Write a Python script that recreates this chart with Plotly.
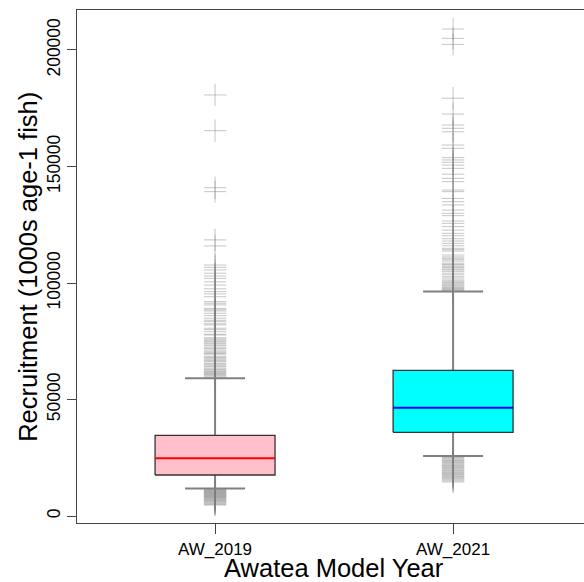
import plotly.graph_objects as go

categories = ["AW_2019", "AW_2021"]
lower_whisker = [11800, 25700]
q1 = [17600, 35900]
median = [24800, 46500]
q3 = [34600, 62500]
upper_whisker = [59100, 96300]

outliers_2019 = [180700, 165400, 140900, 139200, 118500, 115900, 107700, 106700, 105600, 104200,
                 103000, 102000, 100500, 99100, 97500, 96300, 95300, 94100, 92000, 91300, 90600,
                 89100, 88500, 88000, 87000, 86000, 84900, 84000, 83400, 82500, 82000, 80600,
                 80000, 79100, 78000, 77700, 76500, 76000, 75500, 75000, 74600, 74000, 73400,
                 73000, 72200, 71800, 71200, 70500, 70000, 69800, 69200, 68400, 68000, 67500,
                 67000, 66600, 66200, 65500, 65100, 64500, 64100, 63500, 63000, 62700, 62200,
                 61900, 61500, 61200, 60800, 60500, 60100, 59600,
                 11500, 11300, 11100, 10900, 10700, 10500, 10300, 10100, 9900, 9700, 9500, 9300,
                 9100, 8900, 8700, 8500, 8300, 8100, 7900, 7600, 7400, 7100, 6800, 6600, 6300,
                 6000, 5700, 5300, 5000, 4700]
outliers_2021 = [209000, 205000, 202400, 179300, 172500, 167800, 166400, 164900, 159200, 157800,
                 153800, 152800, 151800, 150600, 149200, 146700, 144900, 143500, 139900, 139200,
                 136300, 134900, 133500, 131300, 129900, 128900, 126600, 125600, 124200, 122700,
                 121300, 120300, 119000, 118000, 117000, 116000, 114900, 114300, 113700, 112000,
                 111200, 110600, 110000, 109400, 108500, 108000, 107700, 107000, 106600, 106000,
                 105600, 105000, 104200, 103500, 102700, 102100, 101300, 100800, 100300, 99900,
                 99400, 98900, 98400, 98000, 97700, 97300, 97000, 96600,
                 25200, 24900, 24500, 24100, 23800, 23400, 23000, 22700, 22300, 21900, 21600,
                 21200, 20800, 20500, 20100, 19700, 19400, 19000, 18600, 18300, 17900, 17600,
                 17200, 16900, 16500, 16100, 15600, 15100, 14600]
outliers = [outliers_2019, outliers_2021]

y_tick_vals = [0, 50000, 100000, 150000, 200000]
y_tick_text = ["0", "50000", "100000", "150000", "200000"]

fill_colors = ["#FFC0CB", "#00FFFF"]
median_colors = ["#FF0000", "#0000FF"]
BOX_HALF = 0.252
CAP_HALF = 0.126
FONT = "Liberation Sans, Arial, sans-serif"

fig = go.Figure()

for i, cat in enumerate(categories):
    xc = i + 1
    # outliers
    fig.add_trace(go.Scatter(
        x=[xc] * len(outliers[i]), y=outliers[i], mode="markers",
        marker=dict(symbol="cross-thin", size=16,
                    line=dict(color="rgba(128,128,128,0.45)", width=1)),
        hoverinfo="skip", showlegend=False))
    # whiskers
    fig.add_trace(go.Scatter(
        x=[xc, xc, None, xc, xc], y=[q3[i], upper_whisker[i], None, q1[i], lower_whisker[i]],
        mode="lines", line=dict(color="#808080", width=2),
        hoverinfo="skip", showlegend=False))
    # caps
    fig.add_trace(go.Scatter(
        x=[xc - CAP_HALF, xc + CAP_HALF, None, xc - CAP_HALF, xc + CAP_HALF],
        y=[upper_whisker[i], upper_whisker[i], None, lower_whisker[i], lower_whisker[i]],
        mode="lines", line=dict(color="#808080", width=2),
        hoverinfo="skip", showlegend=False))
    # box
    fig.add_trace(go.Scatter(
        x=[xc - BOX_HALF, xc + BOX_HALF, xc + BOX_HALF, xc - BOX_HALF, xc - BOX_HALF],
        y=[q1[i], q1[i], q3[i], q3[i], q1[i]],
        mode="lines", fill="toself", fillcolor=fill_colors[i],
        line=dict(color="#333333", width=1.3),
        hoverinfo="skip", showlegend=False))
    # median
    fig.add_trace(go.Scatter(
        x=[xc - BOX_HALF, xc + BOX_HALF], y=[median[i], median[i]],
        mode="lines", line=dict(color=median_colors[i], width=2),
        hoverinfo="skip", showlegend=False))

fig.update_layout(
    width=584, height=582,
    margin=dict(l=77, r=0, t=10, b=59),
    paper_bgcolor="white", plot_bgcolor="white",
    font=dict(family=FONT, size=17, color="black"),
    xaxis=dict(range=[0.42, 2.55], tickvals=[1, 2], ticktext=categories,
               showgrid=False, zeroline=False, showline=True, mirror=True,
               linecolor="#444444", linewidth=1.3, ticks="outside", ticklen=10,
               tickcolor="#444444", tickfont=dict(size=17, family=FONT)),
    yaxis=dict(range=[-3004, 217165], tickvals=y_tick_vals, ticktext=y_tick_text,
               showgrid=False, zeroline=False, showline=True, mirror=False,
               linecolor="#444444", linewidth=1.3, ticks="outside", ticklen=9,
               tickcolor="#444444", tickangle=-90, tickfont=dict(size=17.5, family=FONT)),
    annotations=[
        dict(text="Awatea Model Year", xref="paper", yref="paper", x=0.506, y=-0.088,
             xanchor="center", yanchor="middle", showarrow=False,
             font=dict(size=25.5, family=FONT, color="black")),
        dict(text="Recruitment (1000s age-1 fish)", xref="paper", yref="paper",
             x=-0.098, y=0.5, xanchor="center", yanchor="middle", textangle=-90,
             showarrow=False, font=dict(size=25.5, family=FONT, color="black")),
    ],
)

fig.write_html("out.html")
